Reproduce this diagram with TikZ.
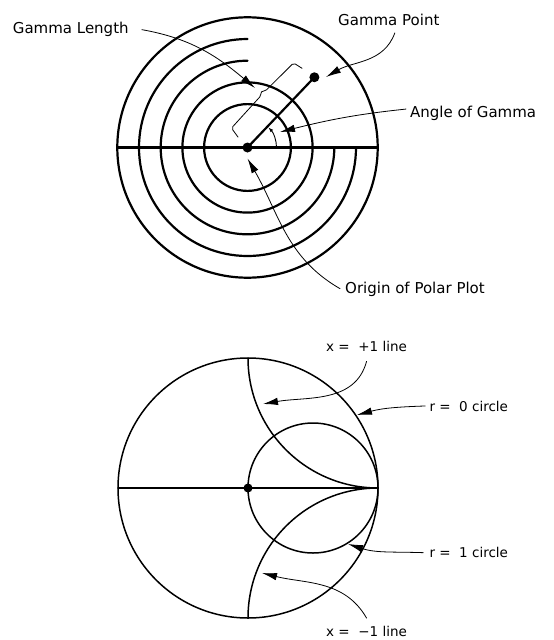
\documentclass[tikz,border=0pt]{standalone}
\usepackage{fontspec}
\newfontfamily\lblfont{DejaVu Sans}
\usetikzlibrary{arrows.meta,calc}
\tikzset{
  every picture/.style={line cap=round, line join=round,
    >={Latex[length=15pt,width=7.5pt]}},
  % Linientypen
  ring/.style={line width=2.2pt},
  chart/.style={line width=1.5pt},
  ptr/.style={line width=0.8pt, ->},
  % Beschriftung
  lbl/.style={font=\lblfont\fontsize{15}{18}\selectfont, inner sep=0pt, anchor=base west},
  slbl/.style={font=\lblfont\fontsize{13.5}{16}\selectfont, inner sep=0pt, anchor=base west},
  dot/.style={circle, fill, inner sep=0pt, minimum size=#1},
  dot/.default=10pt,
}
\begin{document}
\begin{tikzpicture}[x=1pt, y=1pt]
  \useasboundingbox (0,0) rectangle (554,-640);
  \def\u{43.4} \def\R{130}
  \coordinate (O) at (247.5,-147.5);
  \coordinate (S) at (248,-488);
  % Polardiagramm: Kreise
  \draw[ring] (O) circle (\u) (O) circle (1.5*\u) (O) circle (3*\u);
  \draw[ring] ($(O)+(0,2*\u)$) arc[start angle=90, end angle=360, radius=2*\u];
  \draw[ring] ($(O)+(0,2.5*\u)$) arc[start angle=90, end angle=360, radius=2.5*\u];
  \draw[ring] ($(O)+(-3*\u,0)$) -- ($(O)+(3*\u,0)$);
  % Gamma
  \coordinate (G) at ($(O)+(46.4:97)$);
  \draw[ring] (O) -- (G);
  \node[dot] (Od) at (O) {};
  \node[dot] (Gd) at (G) {};
  \draw[line width=0.9pt, -{Latex[length=5pt,width=3.5pt]}] ($(O)+(29,0)$) arc[start angle=0, end angle=44, radius=29];
  % Klammer neben Gamma
  \begin{scope}[shift={(O)}, rotate=46.4, line width=0.8pt, rounded corners=2pt]
    \draw (1,14) -- (3,25) -- (47,26) -- (50,29) -- (53,26) -- (93,25) -- (95,15);
  \end{scope}
  % Beschriftung oben
  \node[lbl] (lenL) at (12.7,-33.8) {Gamma Length};
  \node[lbl] (ptL) at (338,-25.5) {Gamma Point};
  \node[lbl] (angL) at (410,-117.2) {Angle of Gamma};
  \node[lbl] (orgL) at (345,-293.8) {Origin of Polar Plot};
  \coordinate (lenT) at (255,-88);
  \coordinate (ptT) at (326,-77);
  \coordinate (angT) at (280,-132);
  \coordinate (orgT) at (247.5,-158.5);
  \draw[ptr] ([xshift=13pt]lenL.east) to[out=-10, in=140] (lenT);
  \draw[ptr] ([xshift=6pt,yshift=-7pt]ptL.south) to[out=-110, in=30] (ptT);
  \draw[ptr] ([xshift=-4pt,yshift=4pt]angL.west) to[out=186, in=14] (angT);
  \draw[ptr] ([xshift=-5pt,yshift=1pt]orgL.west) to[out=150, in=-60] (orgT);
  % Smith-Diagramm
  \draw[chart] (S) circle (\R);
  \draw[chart] ($(S)+(-\R,0)$) -- ($(S)+(\R,0)$);
  \draw[chart] ($(S)+(\R/2,0)$) circle (\R/2);
  \draw[chart] ($(S)+(0,\R)$) arc[start angle=180, end angle=270, radius=\R];
  \draw[chart] ($(S)+(0,-\R)$) arc[start angle=180, end angle=90, radius=\R];
  \node[dot=9pt] (Sd) at (S) {};
  % Beschriftung unten
  \node[slbl] (xpL) at (326,-351) {x = \ +1 line};
  \node[slbl] (r0L) at (429.3,-411) {r = \ 0 circle};
  \node[slbl] (r1L) at (429.3,-557.7) {r = \ 1 circle};
  \node[slbl] (xmL) at (326,-636.5) {x = \ −1 line};
  \coordinate (xpT) at (263,-404);
  \coordinate (r0T) at (357,-415);
  \coordinate (r1T) at (348,-544);
  \coordinate (xmT) at (262,-573);
  \draw[ptr] ([yshift=-10pt]xpL.south) to[out=-105, in=10] (xpT);
  \draw[ptr] ([xshift=-4pt]r0L.west) to[out=182, in=15] (r0T);
  \draw[ptr] ([xshift=-6pt]r1L.west) to[out=178, in=-18] (r1T);
  \draw[ptr] ([yshift=8pt]xmL.north) to[out=120, in=-14] (xmT);
\end{tikzpicture}
\end{document}
